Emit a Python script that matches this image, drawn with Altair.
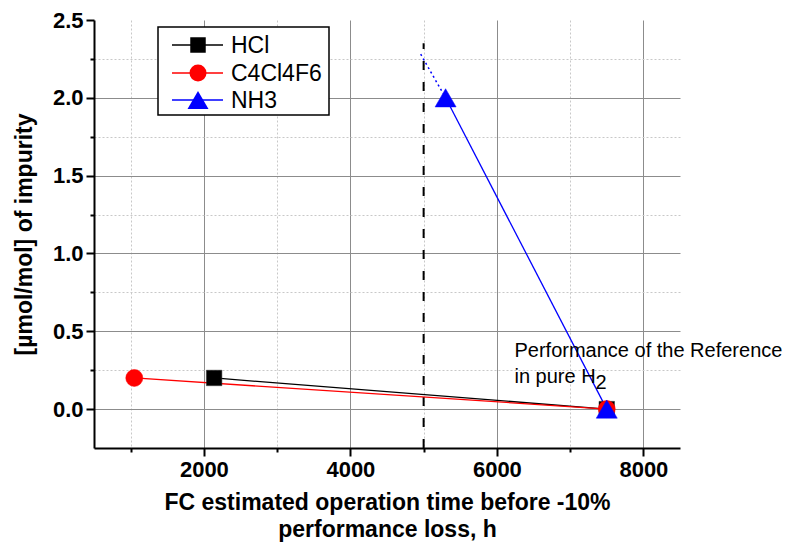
import altair as alt
import pandas as pd

FONT = "Liberation Sans"

# ---- data ----
series_names = ["HCl", "C4Cl4F6", "NH3"]
series_colors = ["#000000", "#ff0000", "#0000ff"]
series_shapes = ["square", "circle", "triangle-up"]
series_sizes = [240, 290, 441]

hcl_x = [2140, 7500]
hcl_y = [0.2, 0.0]
c4_x = [1050, 7500]
c4_y = [0.2, 0.0]
nh3_x = [5300, 7500]
nh3_y = [2.0, 0.0]
nh3_ext_x = [4960, 5300]
nh3_ext_y = [2.28, 2.0]

limit_x = [5000]
limit_y = [-0.25]
limit_y2 = [2.35]

x_domain = [500, 8500]
y_domain = [-0.25, 2.5]
x_major = [2000, 4000, 6000, 8000]
x_minor = [1000, 3000, 5000, 7000]
y_major = [0.0, 0.5, 1.0, 1.5, 2.0, 2.5]
y_major_grid = [0.0, 0.5, 1.0, 1.5, 2.0]
y_minor = [0.25, 0.75, 1.25, 1.75, 2.25]

annot_x = [6240, 6240]
annot_y = [0.336, 0.169]
annot_text = ["Performance of the Reference", "in pure H"]
annot_sub = "2"

x_title = ["FC estimated operation time before -10%", "performance loss, h"]
y_title = "[\u00b5mol/mol] of impurity"

series_x = [hcl_x, c4_x, nh3_x]
series_y = [hcl_y, c4_y, nh3_y]

xs = alt.Scale(domain=x_domain, nice=False, zero=False)
ys = alt.Scale(domain=y_domain, nice=False, zero=False)

TICK_FS = 22
TITLE_FS = 23

major_x_axis = alt.Axis(
    values=x_major, orient="bottom", format="d", grid=True, gridColor="#8c8c8c", gridWidth=1,
    domainColor="black", domainWidth=2, tickColor="black", tickWidth=2, tickSize=8,
    labelFont=FONT, labelFontSize=TICK_FS, labelFontWeight="bold", labelColor="black",
    labelPadding=3, labelOverlap=False, labelFlush=False,
    title=x_title, titleFont=FONT, titleFontSize=TITLE_FS, titleFontWeight="bold",
    titleColor="black", titleLineHeight=27, titlePadding=11)
major_y_axis = alt.Axis(
    values=y_major, orient="left", format=".1f", grid=False,
    domainColor="black", domainWidth=2, tickColor="black", tickWidth=2, tickSize=8,
    labelFont=FONT, labelFontSize=TICK_FS, labelFontWeight="bold", labelColor="black",
    labelPadding=3, labelOverlap=False,
    title=y_title, titleFont=FONT, titleFontSize=TITLE_FS, titleFontWeight="bold",
    titleColor="black", titlePadding=16)
major_y_grid = alt.Axis(
    values=y_major_grid, orient="left", grid=True, gridColor="#8c8c8c", gridWidth=1,
    domain=False, labels=False, ticks=False, title=None)
minor_x_axis = alt.Axis(
    values=x_minor, orient="bottom", grid=True, gridColor="#c8c8c8", gridDash=[2, 2],
    gridWidth=1, domain=False, labels=False, tickColor="black", tickWidth=2, tickSize=4,
    title=None)
minor_y_axis = alt.Axis(
    values=y_minor, orient="left", grid=True, gridColor="#c8c8c8", gridDash=[2, 2],
    gridWidth=1, domain=False, labels=False, tickColor="black", tickWidth=2, tickSize=4,
    title=None)

layers = []

# threshold dashed line (carries the minor axes)
df_lim = pd.DataFrame({"x": limit_x, "y": limit_y, "y2": limit_y2})
layers.append(
    alt.Chart(df_lim).mark_rule(color="black", strokeWidth=2, strokeDash=[9, 12]).encode(
        x=alt.X("x:Q", scale=xs, axis=minor_x_axis),
        y=alt.Y("y:Q", scale=ys, axis=minor_y_axis),
        y2="y2:Q"))

# series lines
y_axes = [major_y_axis, major_y_grid, None]
for i, name in enumerate(series_names):
    df = pd.DataFrame({"x": series_x[i], "y": series_y[i]})
    layers.append(
        alt.Chart(df).mark_line(color=series_colors[i], strokeWidth=1.3).encode(
            x=alt.X("x:Q", scale=xs, axis=major_x_axis if i == 0 else None),
            y=alt.Y("y:Q", scale=ys, axis=y_axes[i])))

# NH3 dotted extrapolation
df_ext = pd.DataFrame({"x": nh3_ext_x, "y": nh3_ext_y})
layers.append(
    alt.Chart(df_ext).mark_line(color="#0000ff", strokeWidth=1.5, strokeDash=[2, 3]).encode(
        x=alt.X("x:Q", scale=xs, axis=None), y=alt.Y("y:Q", scale=ys, axis=None)))

# series markers
for i, name in enumerate(series_names):
    df = pd.DataFrame({"x": series_x[i], "y": series_y[i]})
    layers.append(
        alt.Chart(df).mark_point(shape=series_shapes[i], filled=True, opacity=1,
                                 color=series_colors[i], size=series_sizes[i],
                                 stroke="#333333" if i == 0 else series_colors[i],
                                 strokeWidth=0.5).encode(
            x=alt.X("x:Q", scale=xs, axis=None), y=alt.Y("y:Q", scale=ys, axis=None)))

# annotation
df_ann = pd.DataFrame({"x": annot_x, "y": annot_y, "t": annot_text})
layers.append(
    alt.Chart(df_ann).mark_text(align="left", baseline="alphabetic", font=FONT,
                                fontSize=20, color="black").encode(
        x=alt.X("x:Q", scale=xs, axis=None), y=alt.Y("y:Q", scale=ys, axis=None),
        text="t:N"))
df_sub = pd.DataFrame({"x": annot_x[1:], "y": annot_y[1:], "t": [annot_sub]})
layers.append(
    alt.Chart(df_sub).mark_text(align="left", baseline="alphabetic", font=FONT,
                                fontSize=20, color="black", dx=81, dy=6).encode(
        x=alt.X("x:Q", scale=xs, axis=None), y=alt.Y("y:Q", scale=ys, axis=None),
        text="t:N"))

# legend (drawn inside the plot)
one = pd.DataFrame({"k": [0]})
layers.append(
    alt.Chart(one).mark_rect(fill="white", stroke="black", strokeWidth=1.5).encode(
        x=alt.value(64), x2=alt.value(235), y=alt.value(7), y2=alt.value(95)))
leg_rows = [25, 53, 80]
for i, name in enumerate(series_names):
    layers.append(
        alt.Chart(one).mark_rule(color=series_colors[i], strokeWidth=1.3).encode(
            x=alt.value(78), x2=alt.value(129), y=alt.value(leg_rows[i])))
    layers.append(
        alt.Chart(one).mark_point(shape=series_shapes[i], filled=True, opacity=1,
                                  color=series_colors[i], size=series_sizes[i]).encode(
            x=alt.value(104), y=alt.value(leg_rows[i])))
    layers.append(
        alt.Chart(pd.DataFrame({"t": [name]})).mark_text(
            align="left", baseline="middle", font=FONT, fontSize=23, color="black").encode(
            x=alt.value(137), y=alt.value(leg_rows[i] + 1), text="t:N"))

chart = alt.layer(*layers).resolve_axis(x="independent", y="independent").properties(
    width=586, height=428,
    autosize=alt.AutoSizeParams(type="none"),
    padding={"left": 86, "top": 12, "right": 108, "bottom": 94},
    background="white",
).configure_view(stroke=None)

chart.save("out.html", embed_options={"renderer": "svg", "actions": False})
